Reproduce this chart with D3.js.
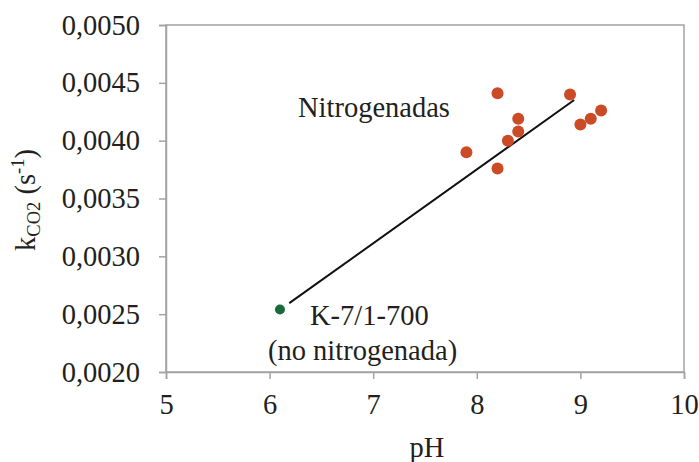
<!DOCTYPE html>
<html><head><meta charset="utf-8">
<script src="https://cdn.jsdelivr.net/npm/d3@7"></script>
<style>body{margin:0;background:#fff}svg{display:block}text{font-family:"Liberation Serif","Times New Roman",serif;fill:#231f20}</style>
</head><body><svg id="c" width="699" height="462"></svg>
<script>
const nitroPH = [8.2, 8.9, 8.4, 9.2, 9.1, 9.0, 8.4, 8.3, 7.9, 8.2];
const nitroK  = [0.00441, 0.00440, 0.00419, 0.00426, 0.00419, 0.00414, 0.00408, 0.00400, 0.00390, 0.00376];
const refPH = [6.1];
const refK  = [0.00254];
const trendPH = [6.19, 8.94];
const trendK  = [0.002595, 0.004352];
const xTicks = [5, 6, 7, 8, 9, 10];
const yTicks = [0.0020, 0.0025, 0.0030, 0.0035, 0.0040, 0.0045, 0.0050];

const FS = 28.5;
const svg = d3.select("#c");
const L = 166, R = 684, T = 25, B = 372;
const x = d3.scaleLinear().domain([5, 10]).range([L, R]);
const y = d3.scaleLinear().domain([0.0020, 0.0050]).range([B, T]);
const fmt = d => d3.format(".4f")(d).replace(".", ",");

// frame
svg.append("rect").attr("x", L).attr("y", T).attr("width", R - L).attr("height", B - T)
  .attr("fill", "none").attr("stroke", "#a3a3a3").attr("stroke-width", 1.5);

const xa = svg.append("g").attr("transform", `translate(0,${B})`)
  .call(d3.axisBottom(x).tickValues(xTicks).tickSize(7).tickPadding(15).tickFormat(d => d));
const ya = svg.append("g").attr("transform", `translate(${L},0)`)
  .call(d3.axisLeft(y).tickValues(yTicks).tickSize(7).tickPadding(19).tickFormat(fmt));
[xa, ya].forEach(a => {
  a.select(".domain").attr("stroke", "#a3a3a3").attr("stroke-width", 1.5);
  a.selectAll(".tick line").attr("stroke", "#a3a3a3").attr("stroke-width", 1.5);
  a.selectAll("text").attr("font-size", FS);
});

// trend line
svg.append("line")
  .attr("x1", x(trendPH[0])).attr("y1", y(trendK[0]))
  .attr("x2", x(trendPH[1])).attr("y2", y(trendK[1]))
  .attr("stroke", "#111").attr("stroke-width", 2);

// points
svg.selectAll("circle.n").data(nitroPH.map((p, i) => [p, nitroK[i]])).join("circle")
  .attr("class", "n").attr("cx", d => x(d[0])).attr("cy", d => y(d[1])).attr("r", 6)
  .attr("fill", "#cc4b27");
svg.selectAll("circle.r").data(refPH.map((p, i) => [p, refK[i]])).join("circle")
  .attr("class", "r").attr("cx", d => x(d[0])).attr("cy", d => y(d[1])).attr("r", 5)
  .attr("fill", "#1a6b3a");

// annotations
svg.append("text").attr("x", 298).attr("y", 117).attr("font-size", FS).text("Nitrogenadas");
svg.append("text").attr("x", 310).attr("y", 325).attr("font-size", FS).text("K-7/1-700");
svg.append("text").attr("x", 268).attr("y", 360).attr("font-size", FS).text("(no nitrogenada)");

// axis titles
svg.append("text").attr("x", (L + R) / 2 + 2).attr("y", 457).attr("text-anchor", "middle")
  .attr("font-size", FS).text("pH");
const yt = svg.append("text").attr("transform", `translate(35,200) rotate(-90)`)
  .attr("text-anchor", "middle").attr("font-size", FS);
yt.append("tspan").text("k");
yt.append("tspan").attr("font-size", 18.5).attr("dy", 5).text("CO2");
yt.append("tspan").attr("dy", -5).text(" (s");
yt.append("tspan").attr("font-size", 18.5).attr("dy", -11).text("-1");
yt.append("tspan").attr("dy", 11).text(")");
</script></body></html>
